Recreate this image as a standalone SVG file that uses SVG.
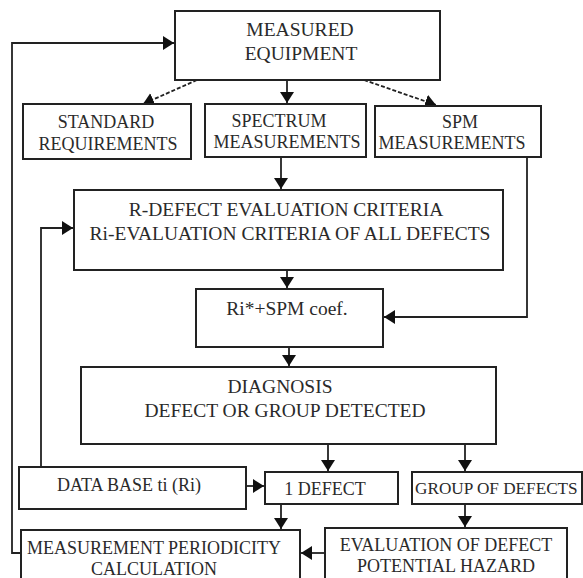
<svg xmlns="http://www.w3.org/2000/svg" width="583" height="578" viewBox="0 0 583 578">
<style>
.box{fill:#fff;stroke:#222;stroke-width:2}
.t{font-family:"Liberation Serif","Times New Roman",serif;fill:#2a2a2a;text-anchor:middle}
.big{font-size:19.5px}
.sm{font-size:18px}
.ln{fill:none;stroke:#222;stroke-width:1.8}
.dash{stroke-dasharray:4 2}
</style>
<defs>
<marker id="ah" markerUnits="userSpaceOnUse" markerWidth="12" markerHeight="14" refX="11" refY="7" orient="auto">
<path d="M0,0 L11,7 L0,14 z" fill="#111"/>
</marker>
</defs>
<rect width="583" height="578" fill="#fff"/>
<g id="connectors">
<path class="ln" d="M21,553 H12 V43 H174" marker-end="url(#ah)"/>
<path class="ln" d="M41,467 V228 H73" marker-end="url(#ah)"/>
<path class="ln dash" d="M197,80 L143,104" marker-end="url(#ah)"/>
<path class="ln" d="M287,80 V103" marker-end="url(#ah)"/>
<path class="ln dash" d="M364,80 L436,105" marker-end="url(#ah)"/>
<path class="ln" d="M281,157 V189" marker-end="url(#ah)"/>
<path class="ln" d="M287,270 V288" marker-end="url(#ah)"/>
<path class="ln" d="M527,157 V317 H384" marker-end="url(#ah)"/>
<path class="ln" d="M289,347 V366" marker-end="url(#ah)"/>
<path class="ln" d="M328,444 V471" marker-end="url(#ah)"/>
<path class="ln" d="M465,444 V471" marker-end="url(#ah)"/>
<path class="ln" d="M246,486 H264" marker-end="url(#ah)"/>
<path class="ln" d="M281,504 V529" marker-end="url(#ah)"/>
<path class="ln" d="M465,504 V527" marker-end="url(#ah)"/>
<path class="ln" d="M325,553 H301" marker-end="url(#ah)"/>
</g>
<g id="measured-equipment">
<rect class="box" x="175" y="11" width="265" height="69"/>
<text class="t big" x="300" y="36">MEASURED</text>
<text class="t big" x="301" y="60">EQUIPMENT</text>
</g>
<g id="standard-requirements">
<rect class="box" x="23" y="104" width="168" height="55"/>
<text class="t sm" x="106" y="128">STANDARD</text>
<text class="t sm" x="108" y="150">REQUIREMENTS</text>
</g>
<g id="spectrum-measurements">
<rect class="box" x="205" y="104" width="161" height="53"/>
<text class="t sm" x="279" y="127">SPECTRUM</text>
<text class="t sm" x="287" y="148">MEASUREMENTS</text>
</g>
<g id="spm-measurements">
<rect class="box" x="375" y="106" width="166" height="51"/>
<text class="t sm" x="460" y="128">SPM</text>
<text class="t sm" x="452" y="149">MEASUREMENTS</text>
</g>
<g id="r-defect">
<rect class="box" x="74" y="190" width="429" height="80"/>
<text class="t big" x="286" y="216">R-DEFECT EVALUATION CRITERIA</text>
<text class="t big" x="290" y="240">Ri-EVALUATION CRITERIA OF ALL DEFECTS</text>
</g>
<g id="ri-spm">
<rect class="box" x="196" y="289" width="187" height="58"/>
<text class="t big" x="287" y="315">Ri*+SPM coef.</text>
</g>
<g id="diagnosis">
<rect class="box" x="81" y="367" width="415" height="77"/>
<text class="t big" x="280" y="393">DIAGNOSIS</text>
<text class="t big" x="285" y="417">DEFECT OR GROUP DETECTED</text>
</g>
<g id="data-base">
<rect class="box" x="19" y="467" width="227" height="42"/>
<text class="t sm" x="129" y="491">DATA BASE ti (Ri)</text>
</g>
<g id="one-defect">
<rect class="box" x="265" y="472" width="133" height="32"/>
<text class="t sm" x="325" y="495">1 DEFECT</text>
</g>
<g id="group-of-defects">
<rect class="box" x="412" y="472" width="170" height="32"/>
<text class="t" x="415" y="494" style="text-anchor:start;font-size:17.2px">GROUP OF DEFECTS</text>
</g>
<g id="periodicity">
<rect class="box" x="21" y="530" width="279" height="60"/>
<text class="t sm" x="154" y="554">MEASUREMENT PERIODICITY</text>
<text class="t sm" x="154" y="575">CALCULATION</text>
</g>
<g id="evaluation">
<rect class="box" x="325" y="528" width="242" height="62"/>
<text class="t sm" x="446" y="551">EVALUATION OF DEFECT</text>
<text class="t sm" x="446" y="572">POTENTIAL HAZARD</text>
</g>
</svg>
